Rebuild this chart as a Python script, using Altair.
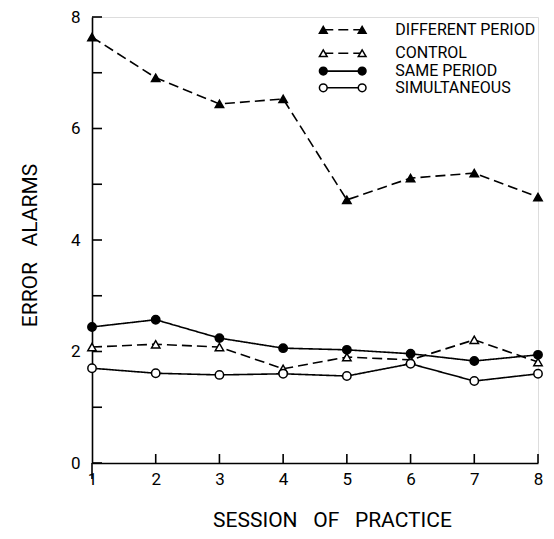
import altair as alt
import pandas as pd

sessions = [1, 2, 3, 4, 5, 6, 7, 8]
series_names = ["DIFFERENT PERIOD", "CONTROL", "SAME PERIOD", "SIMULTANEOUS"]
different_period = [7.64, 6.91, 6.44, 6.53, 4.72, 5.11, 5.20, 4.77]
control = [2.08, 2.13, 2.08, 1.69, 1.90, 1.85, 2.21, 1.81]
same_period = [2.44, 2.57, 2.24, 2.06, 2.03, 1.96, 1.83, 1.94]
simultaneous = [1.70, 1.61, 1.58, 1.60, 1.56, 1.78, 1.47, 1.60]
y_ticks = [0, 1, 2, 3, 4, 5, 6, 7, 8]
y_labels = [0, 2, 4, 6, 8]
x_ticks = [2, 3, 4, 5, 6, 7, 8]

FONT = "Roboto"
W, H = 446, 446
SP = "\u00a0\u00a0\u00a0"

rows = []
for name, vals in zip(series_names, [different_period, control, same_period, simultaneous]):
    for s, v in zip(sessions, vals):
        rows.append({"series": name, "session": s, "value": v})
df = pd.DataFrame(rows)

dash_scale = alt.Scale(domain=series_names, range=[[10, 5], [10, 5], [1, 0], [1, 0]])
shape_scale = alt.Scale(domain=series_names, range=["triangle-up", "triangle-up", "circle", "circle"])
fill_scale = alt.Scale(domain=series_names, range=["black", "white", "black", "white"])

xs = alt.Scale(domain=[1, 8], nice=False, zero=False)
ys = alt.Scale(domain=[0, 8], nice=False)

x_enc = alt.X("session:Q", scale=xs, axis=alt.Axis(
    values=sessions, format="d", ticks=False, grid=False, labelFontSize=17, labelFont=FONT,
    labelColor="black", labelPadding=8, domainColor="black", domainWidth=1.6,
    title=f"SESSION{SP}OF{SP}PRACTICE", titleFont=FONT, titleFontSize=21,
    titleFontWeight="normal", titleColor="black", titleX=240, titleY=63,
    titleAlign="center", titleBaseline="alphabetic", labelFlush=False))
y_enc = alt.Y("value:Q", scale=ys, axis=alt.Axis(
    values=y_labels, format="d", ticks=False, grid=False, labelFontSize=17, labelFont=FONT,
    labelColor="black", labelPadding=12, domainColor="black", domainWidth=1.6,
    title=f"ERROR{SP}ALARMS", titleFont=FONT, titleFontSize=21,
    titleFontWeight="normal", titleColor="black", titleX=-56, titleY=228,
    titleAlign="center", titleBaseline="alphabetic", titleAngle=-90))

lines = alt.Chart(df).mark_line(color="black", strokeWidth=1.6).encode(
    x=x_enc, y=y_enc, detail="series:N",
    strokeDash=alt.StrokeDash("series:N", scale=dash_scale, legend=None))

points = alt.Chart(df).mark_point(stroke="black", strokeWidth=1.5, size=70, opacity=1).encode(
    x=alt.X("session:Q", scale=xs),
    y=alt.Y("value:Q", scale=ys),
    shape=alt.Shape("series:N", scale=shape_scale, legend=None),
    fill=alt.Fill("series:N", scale=fill_scale, legend=None))

# inward axis ticks
ytick_df = pd.DataFrame({"v": y_ticks})
yticks = alt.Chart(ytick_df).mark_rule(color="black", strokeWidth=1.6).encode(
    y=alt.Y("v:Q", scale=ys), x=alt.value(0), x2=alt.value(10))
xtick_df = pd.DataFrame({"s": x_ticks})
xticks = alt.Chart(xtick_df).mark_rule(color="black", strokeWidth=1.6).encode(
    x=alt.X("s:Q", scale=xs), y=alt.value(H), y2=alt.value(H - 9))
yext = alt.Chart(pd.DataFrame({"s": [1]})).mark_rule(color="black", strokeWidth=1.6).encode(
    x=alt.X("s:Q", scale=xs), y=alt.value(H), y2=alt.value(H + 16))

# legend (layout positions in data units)
leg_y = [7.77, 7.35, 7.03, 6.73]
leg_x0, leg_x1, leg_tx = 4.63, 5.24, 5.76
leg_df = pd.DataFrame({"series": series_names, "ly": leg_y,
                       "x0": [leg_x0] * 4, "x1": [leg_x1] * 4, "tx": [leg_tx] * 4})
leg_lines = alt.Chart(leg_df).mark_rule(color="black", strokeWidth=1.6).encode(
    x=alt.X("x0:Q", scale=xs), x2="x1:Q", y=alt.Y("ly:Q", scale=ys),
    strokeDash=alt.StrokeDash("series:N", scale=alt.Scale(domain=series_names,
                              range=[[6, 4], [6, 4], [1, 0], [1, 0]]), legend=None))
leg_pts = []
for col in ["x0", "x1"]:
    leg_pts.append(alt.Chart(leg_df).mark_point(stroke="black", strokeWidth=1.5, size=60, opacity=1).encode(
        x=alt.X(f"{col}:Q", scale=xs), y=alt.Y("ly:Q", scale=ys),
        shape=alt.Shape("series:N", scale=shape_scale, legend=None),
        fill=alt.Fill("series:N", scale=fill_scale, legend=None)))
leg_text = alt.Chart(leg_df).mark_text(align="left", baseline="middle", font=FONT,
                                       fontSize=16, color="black").encode(
    x=alt.X("tx:Q", scale=xs), y=alt.Y("ly:Q", scale=ys), text="series:N")

chart = alt.layer(lines, yticks, xticks, yext, points, leg_lines, *leg_pts, leg_text).properties(
    width=W, height=H,
    autosize=alt.AutoSizeParams(type="none"),
    padding={"left": 84, "top": 9, "right": 8, "bottom": 68},
).configure_view(stroke=None).configure(background="white")

chart.save("out.html", embed_options={"renderer": "svg", "actions": False})
